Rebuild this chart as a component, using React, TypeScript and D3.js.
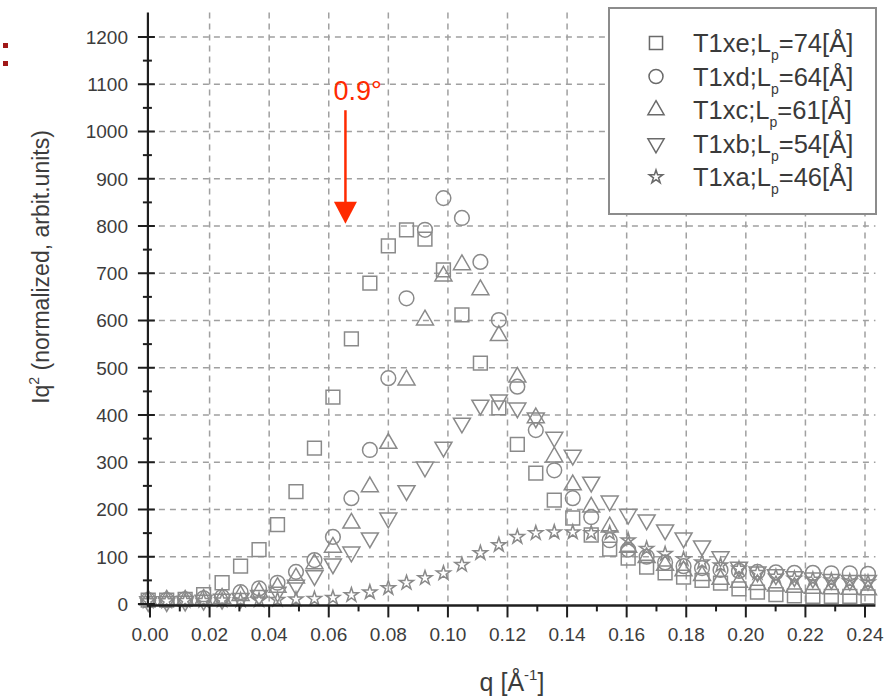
import React from 'react';
import * as d3 from 'd3';

// q positions of the measured points [Å^-1]
const qValues = [
  -0.0006, 0.0056, 0.0118, 0.0180, 0.0242, 0.0304, 0.0366, 0.0428, 0.0490, 0.0552,
  0.0614, 0.0676, 0.0738, 0.0800, 0.0861, 0.0923, 0.0985, 0.1047, 0.1109, 0.1171,
  0.1233, 0.1295, 0.1357, 0.1419, 0.1481, 0.1543, 0.1605, 0.1667, 0.1729, 0.1791,
  0.1853, 0.1915, 0.1977, 0.2039, 0.2101, 0.2163, 0.2225, 0.2287, 0.2349, 0.2410,
];

const t1xe = [
  8, 8, 10, 20, 45, 80, 115, 168, 238, 330,
  438, 561, 679, 758, 792, 772, 707, 612, 510, 415,
  338, 277, 220, 182, 146, 116, 97, 78, 66, 57,
  50, 44, 32, 25, 20, 17, 16, 16, 16, 15,
];
const t1xd = [
  8, 8, 10, 12, 15, 25, 33, 45, 68, 93,
  142, 224, 326, 478, 647, 792, 859, 817, 724, 601,
  460, 368, 283, 224, 184, 135, 115, 100, 88, 80,
  76, 72, 70, 68, 67, 66, 66, 65, 65, 64,
];
const t1xc = [
  8, 8, 8, 10, 12, 18, 25, 35, 55, 85,
  120, 171, 248, 340, 474, 601, 694, 718, 665, 568,
  480, 394, 311, 252, 205, 163, 120, 98, 82, 70,
  60, 52, 46, 41, 38, 35, 33, 32, 31, 30,
];
const t1xb = [
  5, 5, 6, 8, 10, 12, 18, 25, 40, 60,
  85, 110, 140, 182, 240, 290, 332, 383, 421, 432,
  415, 394, 353, 315, 258, 218, 190, 178, 157, 140,
  123, 100, 78, 68, 62, 58, 55, 52, 50, 50,
];
const t1xa = [
  6, 6, 7, 7, 8, 8, 8, 9, 10, 11,
  13, 19, 25, 34, 45, 55, 65, 83, 108, 125,
  142, 150, 152, 152, 150, 150, 135, 117, 106, 95,
  88, 82, 75, 66, 58, 54, 52, 50, 48, 46,
];

const seriesNames = ['T1xe', 'T1xd', 'T1xc', 'T1xb', 'T1xa'];
const lpValues = ['74', '64', '61', '54', '46'];
const seriesData = [t1xe, t1xd, t1xc, t1xb, t1xa];
const seriesSymbols = ['square', 'circle', 'triangle', 'down', 'star'];

const xTicks = [0, 0.02, 0.04, 0.06, 0.08, 0.1, 0.12, 0.14, 0.16, 0.18, 0.2, 0.22, 0.24];
const yTicks = [0, 100, 200, 300, 400, 500, 600, 700, 800, 900, 1000, 1100, 1200];

const annotationLabel = '0.9°';
const annotationQ = 0.0656;
const annotationTop = 1045;
const annotationTip = 805;
const annotationTextV = 1067;

const FONT = "'Liberation Sans', Arial, Helvetica, sans-serif";
const MARK = '#8a8a8a';

function symbolPath(kind: string): { d: string; rotate: number } {
  switch (kind) {
    case 'square':
      return { d: d3.symbol(d3.symbolSquare, 190)() as string, rotate: 0 };
    case 'circle':
      return { d: d3.symbol(d3.symbolCircle, 170)() as string, rotate: 0 };
    case 'triangle':
      return { d: d3.symbol(d3.symbolTriangle, 125)() as string, rotate: 0 };
    case 'down':
      return { d: d3.symbol(d3.symbolTriangle, 125)() as string, rotate: 180 };
    default:
      return { d: d3.symbol(d3.symbolStar, 62)() as string, rotate: 0 };
  }
}

export default function App() {
  const W = 892;
  const H = 697;
  const x = d3.scaleLinear().domain([0, 0.24]).range([150, 865]);
  const y = d3.scaleLinear().domain([0, 1200]).range([604, 37]);
  const xLeft = x(-0.0007);
  const xRight = x(0.2435);
  const yTop = y(1252);
  const yBottom = y(-3);

  const xMinor = d3.range(0.01, 0.245, 0.02);
  const yMinor = d3.range(50, 1250, 100);

  const legendX = 609;
  const legendY = 8;
  const legendW = 267;
  const legendH = 206;

  return (
    <svg width={W} height={H} style={{ display: 'block', position: 'absolute', left: 0, top: 0 }} fontFamily={FONT}>
      <rect x={0} y={0} width={W} height={H} fill="#fff" />
      {/* slide bullets */}
      <rect x={3} y={43} width={5} height={5} fill="#a01818" />
      <rect x={3} y={61} width={5} height={5} fill="#a01818" />

      {/* grid */}
      <g stroke="#a0a0a0" strokeWidth={1.5} strokeDasharray="6,5">
        {xTicks.slice(1).map((t) => (
          <line key={'gx' + t} x1={x(t)} x2={x(t)} y1={yTop} y2={yBottom} />
        ))}
        {yTicks.slice(1).map((t) => (
          <line key={'gy' + t} x1={xLeft} x2={xRight} y1={y(t)} y2={y(t)} />
        ))}
      </g>

      {/* data */}
      {seriesData.map((vals, si) => {
        const s = symbolPath(seriesSymbols[si]);
        return (
          <g key={'s' + si} fill="none" stroke={MARK} strokeWidth={1.5}>
            {vals.map((v, i) => (
              <path
                key={i}
                d={s.d}
                transform={`translate(${x(qValues[i])},${y(v)}) rotate(${s.rotate})`}
              />
            ))}
          </g>
        );
      })}

      {/* axes */}
      <g stroke="#1e1e1e">
        <line x1={xLeft} x2={xLeft} y1={yTop} y2={yBottom + 1} strokeWidth={2.2} />
        <line x1={xLeft - 1} x2={xRight} y1={yBottom} y2={yBottom} strokeWidth={2.5} />
        {yTicks.map((t) => (
          <line key={'yt' + t} x1={xLeft - 10} x2={xLeft + 7} y1={y(t)} y2={y(t)} strokeWidth={2} />
        ))}
        {yMinor.map((t) => (
          <line key={'ym' + t} x1={xLeft - 5} x2={xLeft + 4} y1={y(t)} y2={y(t)} strokeWidth={2} />
        ))}
        {xTicks.map((t) => (
          <line key={'xt' + t} x1={x(t)} x2={x(t)} y1={yBottom} y2={yBottom + 12} strokeWidth={2} />
        ))}
        {xMinor.map((t) => (
          <line key={'xm' + t} x1={x(t)} x2={x(t)} y1={yBottom} y2={yBottom + 6} strokeWidth={2} />
        ))}
      </g>
      <g fill="#3c3c3c" fontSize={19}>
        {yTicks.map((t) => (
          <text key={'yl' + t} x={128} y={y(t)} dy="0.36em" textAnchor="end">
            {t}
          </text>
        ))}
        {xTicks.map((t) => (
          <text key={'xl' + t} x={x(t)} y={641} textAnchor="middle">
            {d3.format('.2f')(t)}
          </text>
        ))}
      </g>

      {/* axis titles */}
      <text transform="translate(49,267) rotate(-90)" textAnchor="middle" fontSize={23} fill="#3c3c3c">
        Iq<tspan fontSize={14} dy={-10}>2</tspan>
        <tspan dy={10}> (normalized, arbit.units)</tspan>
      </text>
      <text x={512} y={691} textAnchor="middle" fontSize={25} fill="#3c3c3c">
        q [Å<tspan fontSize={15} dy={-11}>-1</tspan>
        <tspan dy={11}>]</tspan>
      </text>

      {/* legend */}
      <rect x={legendX} y={legendY} width={legendW} height={legendH} fill="#fff" stroke="#8c8c8c" strokeWidth={2} />
      {seriesNames.map((name, i) => {
        const cy = 43 + i * 33.5;
        const s = symbolPath(seriesSymbols[i]);
        return (
          <g key={'lg' + i}>
            <path
              d={s.d}
              transform={`translate(656,${cy}) rotate(${s.rotate}) scale(0.95)`}
              fill="none"
              stroke="#6a6a6a"
              strokeWidth={1.6}
            />
            <text x={693} y={cy + 9} fontSize={25.5} fill="#3a3a3a">
              {name};L<tspan fontSize={14} dy={8}>p</tspan>
              <tspan dy={-8}>={lpValues[i]}[Å]</tspan>
            </text>
          </g>
        );
      })}

      {/* annotation */}
      <text x={x(annotationQ) - 12} y={y(annotationTextV)} fontSize={27} fill="#ff2a00">
        {annotationLabel}
      </text>
      <line
        x1={x(annotationQ)}
        x2={x(annotationQ)}
        y1={y(annotationTop)}
        y2={y(annotationTip) - 18}
        stroke="#ff2a00"
        strokeWidth={2.5}
      />
      <path
        d={`M${x(annotationQ) - 11.5},${y(annotationTip) - 22} L${x(annotationQ) + 11.5},${y(annotationTip) - 22} L${x(annotationQ)},${y(annotationTip)} Z`}
        fill="#ff2a00"
      />
    </svg>
  );
}
